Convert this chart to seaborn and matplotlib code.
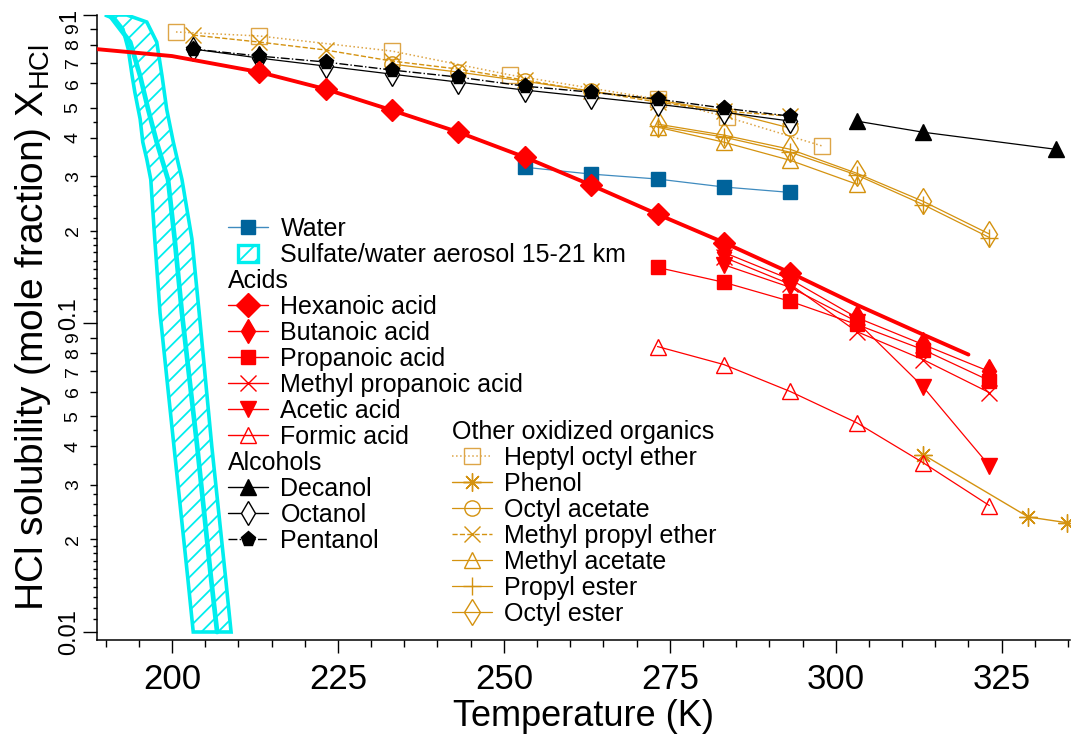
import numpy as np
import matplotlib
matplotlib.use("Agg")
import matplotlib.pyplot as plt
import seaborn as sns
from matplotlib.lines import Line2D
from matplotlib.patches import Rectangle, Patch
from matplotlib.legend_handler import HandlerPatch
from matplotlib.transforms import ScaledTranslation

# ---------------- data ----------------
T_hex_fit = [188.7, 200.0, 213.15, 223.15, 233.15, 243.15, 253.15, 263.15, 273.15,
             283.15, 293.15, 303.15, 313.15, 320.0]
hex_fit = [0.775, 0.736, 0.653, 0.575, 0.491, 0.417, 0.346, 0.281, 0.226,
           0.183, 0.146, 0.115, 0.0921, 0.0793]

T_hex = [213.15, 223.15, 233.15, 243.15, 253.15, 263.15, 273.15, 283.15, 293.15]
hexanoic = [0.653, 0.575, 0.491, 0.417, 0.346, 0.281, 0.226, 0.183, 0.146]

T_water = [253.15, 263.15, 273.15, 283.15, 293.15]
water = [0.321, 0.305, 0.294, 0.277, 0.266]

T_acid5 = [283.15, 293.15, 303.15, 313.15, 323.15]
butanoic = [0.170, 0.139, 0.1046, 0.0855, 0.0699]
methylpropanoic = [0.164, 0.134, 0.0942, 0.0764, 0.0597]
acetic = [0.155, 0.131, 0.1015, 0.0624, 0.0346]

T_acid6 = [273.15, 283.15, 293.15, 303.15, 313.15, 323.15]
propanoic = [0.152, 0.136, 0.118, 0.0993, 0.0823, 0.0653]
formic = [0.0842, 0.0736, 0.0602, 0.0477, 0.0354, 0.0257]

T_decanol = [303.15, 313.15, 333.15]
decanol = [0.453, 0.417, 0.367]

T_alc = [203.15, 213.15, 223.15, 233.15, 243.15, 253.15, 263.15, 273.15, 283.15, 293.15]
octanol = [0.776, 0.725, 0.683, 0.643, 0.606, 0.571, 0.542, 0.514, 0.484, 0.453]
pentanol = [0.776, 0.736, 0.704, 0.663, 0.629, 0.588, 0.562, 0.534, 0.499, 0.470]
methylpropylether = [0.861, 0.817, 0.770, 0.709, 0.668, 0.615, 0.566, 0.522, 0.488, 0.470]

T_heptyl = [200.6, 213.15, 233.15, 251.0, 273.15, 283.6, 298.0]
heptyloctylether = [0.881, 0.855, 0.764, 0.639, 0.534, 0.467, 0.376]

T_phenol = [313.15, 329.0, 334.9]
phenol = [0.0376, 0.0236, 0.0226]

T_octac = [233.15, 243.15, 253.15, 263.15, 273.15, 283.15, 293.15]
octylacetate = [0.693, 0.653, 0.610, 0.566, 0.530, 0.488, 0.430]

T_meac = [273.15, 283.15, 293.15, 303.15]
methylacetate = [0.433, 0.387, 0.338, 0.283]

T_ester = [273.15, 283.15, 293.15, 303.15, 313.15, 323.15]
propylester = [0.436, 0.402, 0.359, 0.303, 0.243, 0.190]
octylester = [0.443, 0.408, 0.367, 0.307, 0.249, 0.195]

# sulfate/water aerosol band (15-21 km)
T_aer_left = [189.9, 191.4, 192.6, 193.4, 194.0, 194.4, 195.2, 195.6, 196.2, 196.8,
              197.4, 198.2, 200.3, 202.4, 203.2]
X_aer_left = [1.0, 0.971, 0.901, 0.776, 0.634, 0.562, 0.460, 0.387, 0.341, 0.293,
              0.188, 0.108, 0.0399, 0.0148, 0.0100]
T_aer_mid = [190.7, 193.7, 195.2, 196.4, 197.7, 199.4, 200.4, 201.5, 203.8, 205.9, 206.8]
X_aer_mid = [0.993, 0.817, 0.634, 0.495, 0.387, 0.293, 0.188, 0.108, 0.0399, 0.0148, 0.0100]
T_aer_right = [193.2, 196.2, 197.7, 198.5, 199.2, 200.2, 201.5, 203.0, 204.1, 206.0,
               208.1, 208.9]
X_aer_right = [1.0, 0.949, 0.817, 0.634, 0.495, 0.387, 0.293, 0.188, 0.108, 0.0399,
               0.0148, 0.0100]

x_major = [200, 225, 250, 275, 300, 325]
y_decades = [0.01, 0.1, 1.0]
y_decade_labels = ["0.01", "0.1", "1"]

# ---------------- style ----------------
sns.set_theme(style="ticks")
plt.rcParams["font.family"] = ["Liberation Sans", "DejaVu Sans"]
plt.rcParams["mathtext.fontset"] = "custom"
plt.rcParams["mathtext.rm"] = "Liberation Sans"
plt.rcParams["mathtext.it"] = "Liberation Sans:italic"
plt.rcParams["hatch.linewidth"] = 1.3

RED = "#FF0000"
GOLD = "#D4920F"
GOLD_L = "#DDA547"
BLUE = "#00639B"
BLUE_L = "#3F8BBF"
CYAN = "#00EEEE"
BLACK = "#000000"

fig = plt.figure(figsize=(10.78, 7.40), dpi=100)
fig.patch.set_facecolor("white")
ax = fig.add_axes([97 / 1078, 1 - 640 / 740, (1070 - 97) / 1078, (640 - 15) / 740])
ax.set_facecolor("white")
ax.set_yscale("log")

# aerosol band
band_T = list(T_aer_left) + list(T_aer_right)[::-1]
band_X = list(X_aer_left) + list(X_aer_right)[::-1]
ax.fill(band_T, band_X, facecolor="white", edgecolor=CYAN, hatch="//", linewidth=0, zorder=1)
ax.fill(band_T, band_X, facecolor="none", edgecolor=CYAN, linewidth=2.6, zorder=1.1)
sns.lineplot(x=T_aer_mid, y=X_aer_mid, ax=ax, color=CYAN, linewidth=3.4, sort=False,
             estimator=None, errorbar=None, legend=False, zorder=1.2)

styles = {}


def series(name, x, y, color, marker, ms, mfc=None, ls="-", lw=0.9, mew=1.0, z=3,
           lc=None, draw=True):
    kw = dict(color=lc or color, marker=marker, markersize=ms,
              markerfacecolor=(color if mfc is None else mfc), markeredgecolor=color,
              markeredgewidth=mew, linestyle=ls, linewidth=lw)
    styles[name] = kw
    if draw:
        sns.lineplot(x=x, y=y, ax=ax, sort=False, estimator=None, errorbar=None,
                     legend=False, zorder=z, **kw)


# gold organics
series("Heptyl octyl ether", T_heptyl, heptyloctylether, GOLD_L, "s", 11, mfc="none",
       ls=":", lw=1.1, z=3)
series("Phenol", T_phenol, phenol, GOLD, (8, 2, 0), 13, lw=1.0, z=3)
series("Octyl acetate", T_octac, octylacetate, GOLD, "o", 11, mfc="none", z=3)
series("Methyl propyl ether", T_alc, methylpropylether, GOLD, "x", 11, ls="--", lw=1.0, z=3)
series("Methyl acetate", T_meac, methylacetate, GOLD, "^", 12, mfc="none", z=3)
series("Propyl ester", T_ester, propylester, GOLD, "+", 13, z=3)
series("Octyl ester", T_ester, octylester, GOLD, "d", 13, mfc="none", z=3)

# alcohols
series("Decanol", T_decanol, decanol, BLACK, "^", 11, z=4)
series("Octanol", T_alc, octanol, BLACK, "d", 12, mfc="white", z=4)
series("Pentanol", T_alc, pentanol, BLACK, "p", 11, ls="-.", lw=1.0, z=4.5)

# acids
series("Formic acid", T_acid6, formic, RED, "^", 12, mfc="none", z=4)
series("Acetic acid", T_acid5, acetic, RED, "v", 11, z=4)
series("Methyl propanoic acid", T_acid5, methylpropanoic, RED, "x", 11, z=4)
series("Propanoic acid", T_acid6, propanoic, RED, "s", 10, z=4)
series("Butanoic acid", T_acid5, butanoic, RED, "d", 12, z=4)

# water
series("Water", T_water, water, BLUE, "s", 10, lc=BLUE_L, z=4)

# hexanoic acid: thick fitted curve + data markers
sns.lineplot(x=T_hex_fit, y=hex_fit, ax=ax, color=RED, linewidth=2.8, sort=False,
             estimator=None, errorbar=None, legend=False, zorder=5)
series("Hexanoic acid", T_hex, hexanoic, RED, "D", 11, ls="none", z=5.5)
styles["Hexanoic acid"]["linestyle"] = "-"
styles["Hexanoic acid"]["markersize"] = 12

# ---------------- axes ----------------
for s in ("top", "right"):
    ax.spines[s].set_visible(False)
for s in ("left", "bottom"):
    ax.spines[s].set_color("black")
    ax.spines[s].set_linewidth(1.1)

ax.set_xticks(x_major)
ax.set_xticklabels([str(v) for v in x_major])
ax.set_xticks(list(range(190, 336, 5)), minor=True)
ax.tick_params(axis="x", which="major", length=9.5, width=1.0, pad=7, labelsize=25,
               color="black", labelcolor="black")
ax.tick_params(axis="x", which="minor", length=5, width=1.0, color="black")

# y ticks: decades as major, 2..9 labelled minor, plus fine unlabeled subticks
sub_lab = [2, 3, 4, 5, 6, 7, 8, 9]
sub_fine = [1.1, 1.2, 1.3, 1.4, 1.5, 1.6, 1.7, 1.8, 1.9, 2.2, 2.4, 2.6, 2.8, 3.5, 4.5]
minor_locs, minor_labels, minor_len = [], [], []
for dec in (0.01, 0.1):
    for s in sub_lab:
        minor_locs.append(s * dec)
        minor_labels.append(str(s))
        minor_len.append(5.0)
    for s in sub_fine:
        minor_locs.append(s * dec)
        minor_labels.append("")
        minor_len.append(2.8)
ax.set_yticks(y_decades)
ax.set_yticklabels(y_decade_labels)
ax.set_yticks(minor_locs, minor=True)
ax.set_yticklabels(minor_labels, minor=True)
ax.tick_params(axis="y", which="major", length=10, width=1.0, pad=2, labelsize=17,
               labelrotation=90, color="black", labelcolor="black")
ax.tick_params(axis="y", which="minor", length=5, width=1.0, pad=6, labelsize=14,
               labelrotation=90, color="black", labelcolor="black")
ticks = ax.yaxis.get_minor_ticks(len(minor_locs))
for t, L in zip(ticks, minor_len):
    t.tick1line.set_markersize(L)
majors = ax.yaxis.get_major_ticks(len(y_decades))
for t in majors + ticks:
    t.label1.set_va("center")
# nudge the "0.1" label up a little so it clears the "9" below it
majors[1].label1.set_transform(majors[1].label1.get_transform()
                               + ScaledTranslation(0, 7 / 72, fig.dpi_scale_trans))

# limits after ticks (set_yticks may expand the view)
ax.set_xlim(188.7, 335.3)
ax.set_ylim(0.00942, 1.0)

ax.set_xlabel("Temperature (K)", fontsize=26, labelpad=2, color="black")
ax.set_ylabel("HCl solubility (mole fraction) X$_{\\mathrm{HCl}}$", fontsize=28,
              labelpad=4, color="black")
ax.grid(False)

# ---------------- legends ----------------
def handle(name, lw=None):
    kw = dict(styles[name])
    if lw is not None:
        kw["linewidth"] = lw
    return Line2D([0], [0], **kw)


def header():
    return Line2D([], [], linestyle="none", marker=None)


def small_patch(legend, orig_handle, xdescent, ydescent, width, height, fontsize):
    w = width * 0.5
    h = height * 1.0
    return Rectangle((xdescent + (width - w) / 2, ydescent), w, h)


aer_patch = Patch(facecolor="white", edgecolor=CYAN, hatch="//", linewidth=2.4)

left_names = ["Water", None, "Acids", "Hexanoic acid", "Butanoic acid", "Propanoic acid",
              "Methyl propanoic acid", "Acetic acid", "Formic acid", "Alcohols",
              "Decanol", "Octanol", "Pentanol"]
left_handles, left_labels = [], []
for n in left_names:
    if n is None:
        left_handles.append(aer_patch)
        left_labels.append("Sulfate/water aerosol 15-21 km")
    elif n in ("Acids", "Alcohols"):
        left_handles.append(header())
        left_labels.append(n)
    else:
        left_handles.append(handle(n, lw=1.0))
        left_labels.append(n)

right_names = ["Other oxidized organics", "Heptyl octyl ether", "Phenol", "Octyl acetate",
               "Methyl propyl ether", "Methyl acetate", "Propyl ester", "Octyl ester"]
right_handles, right_labels = [], []
for n in right_names:
    if n == "Other oxidized organics":
        right_handles.append(header())
    else:
        right_handles.append(handle(n))
    right_labels.append(n)

common = dict(frameon=False, fontsize=18, borderpad=0, borderaxespad=0,
              handlelength=1.6, handletextpad=0.5, labelspacing=0.08,
              loc="upper left", bbox_transform=fig.transFigure)
leg1 = fig.legend(left_handles, left_labels, bbox_to_anchor=(228 / 1078, 1 - 217 / 740),
                  handler_map={Patch: HandlerPatch(patch_func=small_patch)}, **common)
leg2 = fig.legend(right_handles, right_labels, bbox_to_anchor=(452 / 1078, 1 - 420 / 740),
                  **common)

headers = {"Acids", "Alcohols", "Other oxidized organics"}
for leg in (leg1, leg2):
    for col in leg._legend_handle_box.get_children():
        for item in col.get_children():
            kids = item.get_children()
            if len(kids) != 2:
                continue
            da, ta = kids
            txt = ta.get_children()[0]
            if txt.get_text() in headers:
                da.width = 0
                item.sep = 0
    for t in leg.get_texts():
        t.set_color("black")

fig.savefig("out.png", dpi=100, facecolor="white")
